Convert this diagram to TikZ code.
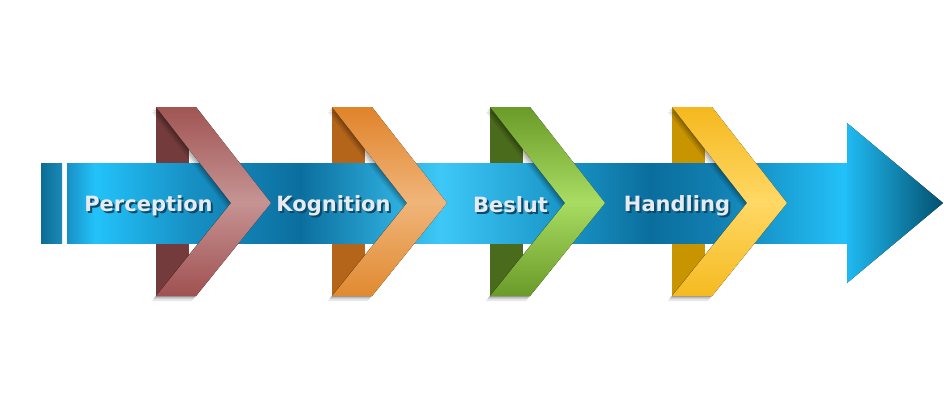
\documentclass[tikz,border=0pt]{standalone}
\usepackage{fontspec}
\newfontfamily\lblfont{DejaVu Sans}
\definecolor{bA}{HTML}{1890C4}
\definecolor{bB}{HTML}{22C3FA}
\definecolor{bC}{HTML}{1790C4}
\definecolor{bD}{HTML}{0B6F9E}
\definecolor{bE}{HTML}{3DC8F7}
\definecolor{bF}{HTML}{1A96C8}
\definecolor{bG}{HTML}{0A6E9D}
\definecolor{bH}{HTML}{1280B2}
\definecolor{bI}{HTML}{22C0F8}
\definecolor{lbL}{HTML}{0B6D95}
\definecolor{lbR}{HTML}{1A8AB8}
\definecolor{hL}{HTML}{20BAF2}
\definecolor{hR}{HTML}{03506E}
\definecolor{rBack}{HTML}{733B3C}
\definecolor{rTop}{HTML}{A05553}
\definecolor{rMid}{HTML}{C69393}
\definecolor{rBot}{HTML}{A05151}
\definecolor{oBack}{HTML}{B5651A}
\definecolor{oTop}{HTML}{E0832A}
\definecolor{oMid}{HTML}{F0B57A}
\definecolor{oBot}{HTML}{E08A30}
\definecolor{gBack}{HTML}{4A6A1C}
\definecolor{gTop}{HTML}{6A9A28}
\definecolor{gMid}{HTML}{A8DC62}
\definecolor{gBot}{HTML}{6A9A28}
\definecolor{yBack}{HTML}{C89500}
\definecolor{yTop}{HTML}{F5B81E}
\definecolor{yMid}{HTML}{FFD865}
\definecolor{yBot}{HTML}{F5BA20}
\definecolor{lbltext}{HTML}{E6EBF1}
\definecolor{lblshadow}{HTML}{0C4A6A}
\pgfdeclarehorizontalshading{bandshade}{100bp}{color(0bp)=(bA); color(25bp)=(bA); color(26.79bp)=(bB); color(32.88bp)=(bC); color(39.94bp)=(bD); color(48.91bp)=(bE); color(56.6bp)=(bF); color(62.37bp)=(bG); color(66.86bp)=(bH); color(74.55bp)=(bI); color(100bp)=(bI)}
\tikzset{
  lbl/.style={font=\lblfont\bfseries\fontsize{21}{25}\selectfont, text=lbltext, anchor=base, inner sep=0pt},
  chevshadow/.style={fill=black, opacity=0.09}
}
\newcommand\chevpath[1]{(#1,107) -- (#1+40,107) -- (#1+115,203) -- (#1+40,296) -- (#1,296) -- (#1+75,203) -- cycle}
\newcommand\shtext[1]{\makebox[0pt][l]{\hspace*{2pt}\raisebox{-2pt}{\textcolor{lblshadow}{#1}}}#1}
\begin{document}
\begin{tikzpicture}[x=1pt,y=-1pt]
\useasboundingbox (0,0) rectangle (944,415);
% back parts of the ribbons
\foreach \L/\c in {156/rBack,332/oBack,490/gBack,672/yBack}
  \fill[\c] (\L,107) rectangle (\L+33,296);
% arrow
\fill[left color=lbL, right color=lbR] (41,163) rectangle (62,243);
\fill[shading=bandshade] (67,163) rectangle (848,243);
\fill[left color=hL, right color=hR] (847,123) -- (943,203) -- (847,283) -- cycle;
% chevron fronts
\foreach \L/\t/\m/\b in {156/rTop/rMid/rBot,332/oTop/oMid/oBot,490/gTop/gMid/gBot,672/yTop/yMid/yBot}{
  \foreach \dx/\dy in {-1/1,-2/2,-3/3,-4/5}
    \fill[chevshadow, shift={(\dx,\dy)}] \chevpath{\L};
  \fill[top color=\t, bottom color=\b, middle color=\m] \chevpath{\L};
}
% labels
\node[lbl] (perc) at (148.5,211) {\shtext{Perception}};
\node[lbl] (kogn) at (333.5,211) {\shtext{Kognition}};
\node[lbl] (besl) at (510.5,212.5) {\shtext{Beslut}};
\node[lbl] (hand) at (677,211) {\shtext{Handling}};
\end{tikzpicture}
\end{document}
